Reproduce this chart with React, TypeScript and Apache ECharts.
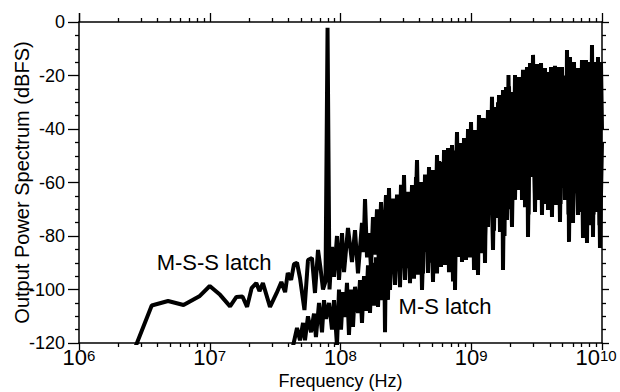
import React, { useEffect, useRef } from "react";
import * as echarts from "echarts";

// Frequencies in MHz, levels in dBFS.
const mssLowBand: [number, number][] = [
  [2.59, -123.7], [3.6, -106], [4.8, -104.3], [6.3, -105.8], [8.4, -102.4], [10.0, -98.7],
  [12, -102], [14.3, -106.3], [16, -102.8], [17.8, -102.6], [19.3, -106.5], [20.9, -99.5],
  [22.7, -97.6], [24, -100.6], [25.5, -97.6], [28.9, -106.5], [32.5, -101.3], [35.3, -97.2],
  [37.7, -101], [39.5, -93.8], [41.9, -96.4], [44.1, -90.5], [46.5, -90], [49, -95.7],
  [53, -107.7], [56.4, -89], [60.5, -88.2], [63.8, -101.3], [67.3, -85.2], [70.3, -92],
  [73.5, -100], [76.8, -97], [79.6, -2.2], [82.4, -100],
];

const mssHighBand: [number, number][] = [
  [86.1, -84.1], [89.2, -95.3], [94, -80], [97.4, -96.4], [102.7, -78.9], [106.4, -93.5],
  [114.1, -77], [122.4, -89.7], [129.1, -77.8], [136.1, -94], [146, -75.1], [149.9, -86],
  [154, -66.2], [159.5, -88], [165.2, -78.9], [171.1, -92], [177.2, -72.9], [183.6, -87],
  [190.2, -70], [197, -92], [204.1, -67.3], [211.4, -90], [222.8, -64.7], [228.8, -92],
  [234.9, -62.1], [243.4, -94], [252.1, -66], [261.1, -90], [270.5, -64.5], [280.2, -93],
  [290.2, -60.9], [298, -88], [306, -57.2], [317, -92], [328.3, -63.5], [340.1, -90],
  [352.3, -61], [368, -88], [384.7, -51.6], [398.5, -90], [412.8, -59.8], [427.6, -94],
  [443, -57], [458.8, -86], [475.3, -54.2], [492.3, -90], [510, -55.3], [528.2, -85],
  [547.2, -49.7], [566.8, -88], [587.1, -52.3], [603, -84], [619, -47.9], [641.2, -86],
  [664.2, -47.1], [688, -82], [712.6, -46], [738.2, -88], [778.2, -41.1], [799, -80],
  [820.4, -45.2], [849.8, -84], [880.3, -43.4], [911.8, -80], [944.5, -40], [970, -82],
  [995.7, -37.4], [1031, -78], [1068, -40.4], [1107, -84], [1146, -34.8], [1187, -78],
  [1230, -35.9], [1274, -80], [1343, -32.9], [1391, -72], [1441, -28], [1493, -78],
  [1546, -31.8], [1588, -70], [1630, -27.3], [1689, -72], [1749, -25.4], [1796, -80],
  [1844, -24.3], [1877, -68], [1927, -19.8], [1979, -70], [2049, -26.2], [2104, -66],
  [2161, -19.8], [2238, -60], [2318, -20.6], [2402, -62], [2488, -17.9], [2577, -64],
  [2669, -16.8], [2741, -72], [2814, -15.3], [2890, -56], [2967, -12.3], [3073, -64],
  [3183, -15.7], [3297, -60], [3416, -15.3], [3538, -66], [3664, -17.2], [3763, -62],
  [3863, -18.7], [3967, -64], [4073, -16.8], [4219, -66], [4370, -16.4], [4527, -62],
  [4689, -16.8], [4814, -68], [4944, -16.8], [5031, -62], [5212, -20], [5304, -60],
  [5399, -10.5], [5543, -72], [5691, -13.1], [5895, -66], [6106, -15], [6325, -64],
  [6552, -17.2], [6787, -62], [7030, -14.2], [7282, -72], [7543, -14.2], [7745, -74],
  [7952, -15], [8165, -68], [8384, -8.6], [8608, -72], [8838, -15], [9075, -64],
  [9318, -13.1], [9568, -76], [9824, -15], [10000, -40],
];

const msBand: [number, number][] = [
  [42.5, -123], [46.5, -114.4], [49.0, -119], [51.7, -112.5], [53.5, -119], [56.4, -110],
  [59.5, -116], [62.7, -109], [64.9, -117.8], [68.5, -105], [72.2, -116], [74.8, -104],
  [77.5, -111], [81.7, -105], [86.1, -115], [89.2, -104], [94, -121], [97.4, -100],
  [100.9, -115], [104.5, -101], [108.3, -110.3], [112.1, -97.5], [116.1, -117], [120.3, -100],
  [124.6, -114], [129.1, -99], [136.1, -108.8], [141, -96.5], [146, -112.5], [151.3, -95],
  [156.7, -108], [162.3, -91], [168.1, -108.8], [174.1, -90], [180.4, -106], [186.9, -88],
  [193.6, -106.5], [200.5, -84], [207.7, -104], [215.2, -80], [219, -116], [222.8, -82],
  [230.8, -103.9], [234.9, -76], [239.1, -100.2], [247.7, -74], [261.1, -98.3], [270.5, -70],
  [285.2, -99.1], [295.4, -68], [311.4, -96.4], [322.6, -64], [340.1, -97.6], [352.3, -66],
  [364.9, -96], [378, -58], [391.5, -94.5], [405.6, -62], [420.2, -100.2], [443, -60],
  [467, -93.8], [483.7, -56], [510, -97.2], [528.2, -58], [547.2, -94], [566.8, -52],
  [587.1, -91.6], [608.2, -54], [630, -90.8], [652.6, -50], [675.9, -93.5], [700.2, -52],
  [725.3, -97], [738.2, -48], [751.3, -100.2], [778.2, -46], [792, -87.8], [820.4, -50],
  [849.8, -89.7], [880.3, -46], [911.8, -89], [944.5, -44], [978.3, -88], [1013, -42],
  [1050, -92.7], [1087, -44], [1126, -94.6], [1167, -38], [1208, -86.4], [1230, -40],
  [1274, -90.1], [1320, -36], [1343, -76.6], [1391, -34], [1467, -85.2], [1519, -35],
  [1574, -73.3], [1602, -30], [1659, -78.5], [1719, -30], [1749, -92.7], [1812, -28],
  [1877, -74], [1944, -24], [2049, -76.6], [2123, -28], [2161, -66.5], [2238, -22],
  [2278, -62.8], [2402, -24], [2444, -66.5], [2532, -20], [2577, -69.2], [2669, -22],
  [2717, -80.4], [2814, -18], [2864, -57.9], [2967, -20], [3073, -71], [3183, -18],
  [3240, -66.5], [3356, -20], [3476, -72.1], [3601, -22], [3730, -68], [3796, -20],
  [3863, -70.3], [4002, -22], [4145, -72.9], [4294, -20], [4448, -68.4], [4607, -22],
  [4772, -74.8], [4944, -20], [5212, -66.5], [5304, -22], [5399, -62.8], [5495, -18],
  [5592, -82.2], [5792, -20], [6000, -75.1], [6215, -22], [6552, -72.1], [6668, -20],
  [6787, -71], [6907, -18], [7155, -80.7], [7411, -20], [7677, -82.6], [7952, -18],
  [8237, -76], [8384, -20], [8533, -80.4], [8838, -18], [9155, -71], [9318, -20],
  [9652, -84.5], [10000, -45],
];

const decades = [1e6, 1e7, 1e8, 1e9, 1e10];
const minorMultipliers = [2, 3, 4, 5, 6, 7, 8, 9];
const yMin = -120;
const yMax = 0;
const yStep = 20;

const annotations = [
  { text: "M-S-S latch", freqMHz: 10.8, db: -90 },
  { text: "M-S latch", freqMHz: 630, db: -106.2 },
];

const FONT = '"Liberation Sans", Arial, Helvetica, sans-serif';

export default function App() {
  const ref = useRef<HTMLDivElement>(null);

  useEffect(() => {
    if (!ref.current) return;
    const chart = echarts.init(ref.current, null, { renderer: "svg" });
    const toHz = (arr: [number, number][]) => arr.map(([f, d]) => [f * 1e6, d]);
    const minorValues = decades
      .slice(0, -1)
      .flatMap((d) => minorMultipliers.map((m) => m * d));
    const black = { color: "#000", width: 1.3 };

    const logBase = {
      type: "log",
      logBase: 10,
      min: decades[0],
      max: decades[decades.length - 1],
      splitLine: { show: false },
      minorSplitLine: { show: false },
    };

    const mssData = toHz([...mssLowBand, ...mssHighBand]);
    const msData = toHz(msBand);

    const markLabel = {
      show: true,
      position: "inside",
      formatter: "{b}",
      color: "#000",
      fontSize: 22,
      fontFamily: FONT,
    };

    chart.setOption({
      animation: false,
      backgroundColor: "#ffffff",
      grid: {
        left: 79,
        right: 18,
        top: 22,
        bottom: 49,
        containLabel: false,
        outerBoundsMode: "none",
      },
      xAxis: [
        {
          ...logBase,
          position: "bottom",
          axisLine: { show: true, onZero: false, lineStyle: { color: "#000", width: 1.5 } },
          axisTick: { show: true, length: 7, lineStyle: black },
          axisLabel: {
            show: true,
            margin: 5,
            showMinLabel: true,
            showMaxLabel: true,
            hideOverlap: false,
            formatter: (v: number) => {
              const e = Math.round(Math.log10(v));
              return e >= 10 ? `{b|10}{s|${e}}{q| }` : `{b|10}{s|${e}}`;
            },
            rich: {
              b: { fontSize: 22, fontFamily: FONT, color: "#000", lineHeight: 20, verticalAlign: "bottom" },
              s: { fontSize: 15, fontFamily: FONT, color: "#000", lineHeight: 14, verticalAlign: "top" },
              q: { fontSize: 4, width: 12 },
            },
          },
          name: "Frequency (Hz)",
          nameLocation: "middle",
          nameGap: 28,
          nameMoveOverlap: false,
          nameTextStyle: { fontSize: 18, fontFamily: FONT, color: "#000", lineHeight: 20 },
        },
        {
          ...logBase,
          position: "bottom",
          axisLine: { show: false, onZero: false },
          axisTick: { show: true, length: 4, customValues: minorValues, lineStyle: black },
          axisLabel: { show: false },
        },
        {
          ...logBase,
          position: "top",
          axisLine: { show: true, onZero: false, lineStyle: { color: "#000", width: 1.5 } },
          axisTick: { show: true, length: 9, lineStyle: black },
          axisLabel: { show: false },
        },
        {
          ...logBase,
          position: "top",
          axisLine: { show: false, onZero: false },
          axisTick: { show: true, length: 4, customValues: minorValues, lineStyle: black },
          axisLabel: { show: false },
        },
      ],
      yAxis: [
        {
          type: "value",
          position: "left",
          min: yMin,
          max: yMax,
          interval: yStep,
          splitLine: { show: false },
          axisLine: { show: true, onZero: false, lineStyle: { color: "#000", width: 1.5 } },
          axisTick: { show: true, length: 11, lineStyle: black },
          minorTick: { show: true, splitNumber: 4, length: 4, lineStyle: black },
          axisLabel: { margin: 14, fontSize: 18, fontFamily: FONT, color: "#000" },
          name: "Output Power Spectrum (dBFS)",
          nameLocation: "middle",
          nameGap: 47,
          nameMoveOverlap: false,
          nameTextStyle: { fontSize: 20, fontFamily: FONT, color: "#000" },
        },
        {
          type: "value",
          position: "right",
          min: yMin,
          max: yMax,
          interval: yStep,
          splitLine: { show: false },
          axisLine: { show: true, onZero: false, lineStyle: { color: "#000", width: 1.5 } },
          axisTick: { show: true, length: 7, lineStyle: black },
          minorTick: { show: true, splitNumber: 4, length: 4, lineStyle: black },
          axisLabel: { show: false },
        },
      ],
      series: [
        {
          name: "M-S latch",
          type: "line",
          xAxisIndex: 0,
          yAxisIndex: 0,
          data: msData,
          symbol: "none",
          showSymbol: false,
          clip: true,
          silent: true,
          lineStyle: { color: "#000", width: 4, join: "bevel" },
          markPoint: {
            symbol: "rect",
            symbolSize: 1,
            silent: true,
            itemStyle: { color: "rgba(0,0,0,0)" },
            label: markLabel,
            data: [
              { name: annotations[1].text, coord: [annotations[1].freqMHz * 1e6, annotations[1].db] },
            ],
          },
        },
        {
          name: "M-S-S latch",
          type: "line",
          xAxisIndex: 0,
          yAxisIndex: 0,
          data: mssData,
          symbol: "none",
          showSymbol: false,
          clip: true,
          silent: true,
          lineStyle: { color: "#000", width: 4, join: "bevel" },
          markPoint: {
            symbol: "rect",
            symbolSize: 1,
            silent: true,
            itemStyle: { color: "rgba(0,0,0,0)" },
            label: markLabel,
            data: [
              { name: annotations[0].text, coord: [annotations[0].freqMHz * 1e6, annotations[0].db] },
            ],
          },
        },
      ],
    });

    return () => chart.dispose();
  }, []);

  return (
    <div
      ref={ref}
      style={{ position: "fixed", left: 0, top: 0, width: 620, height: 392, background: "#fff" }}
    />
  );
}
